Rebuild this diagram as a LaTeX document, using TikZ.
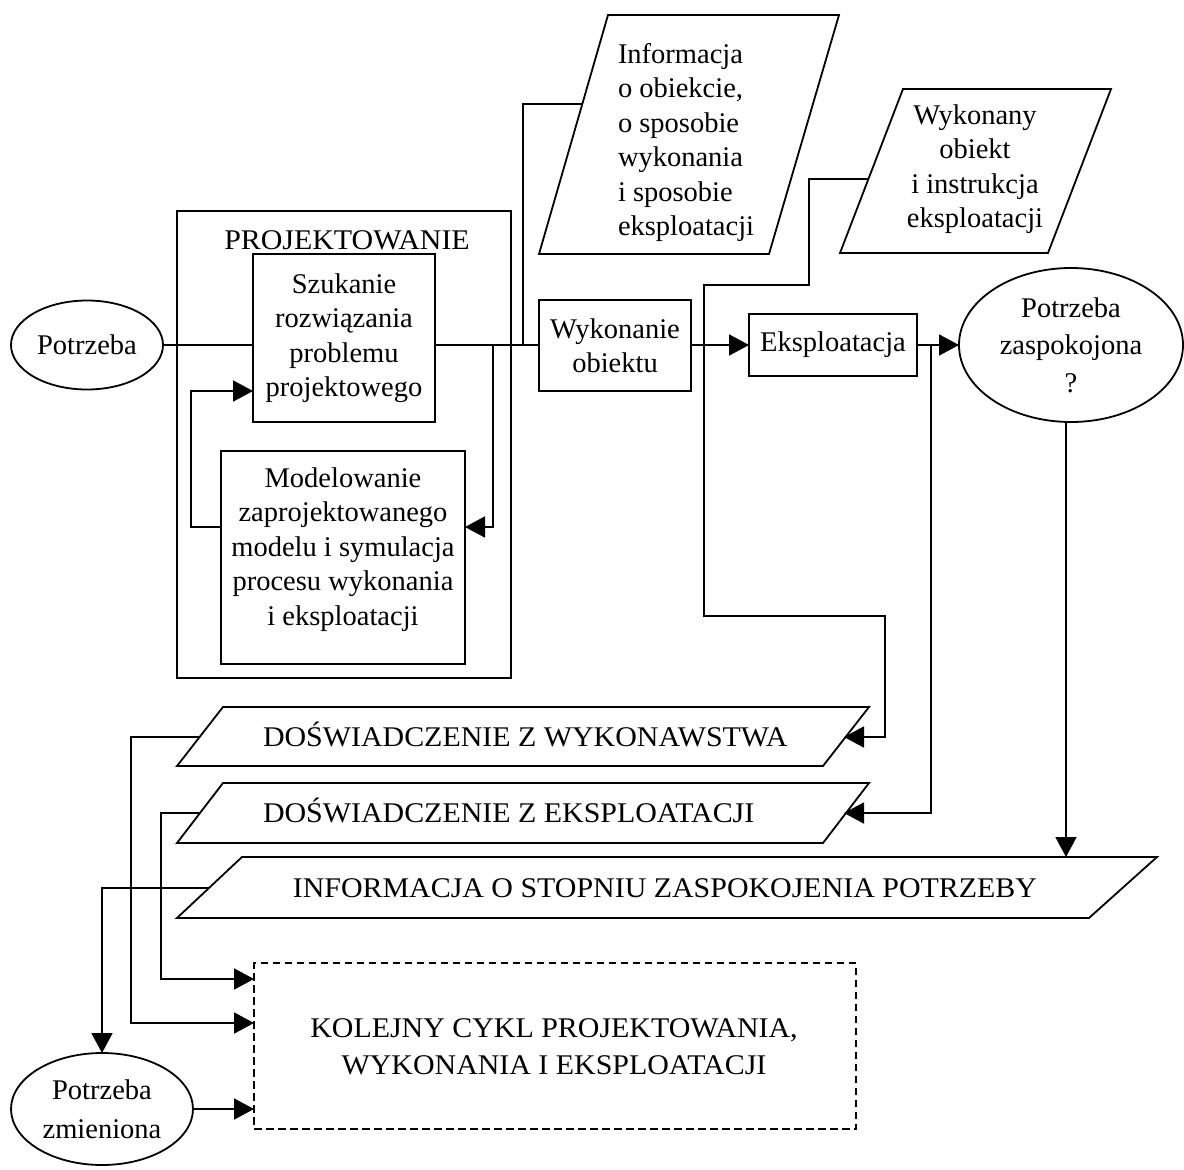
\documentclass[tikz,border=0pt]{standalone}
\usepackage{fontspec}
\setmainfont{Liberation Serif}
\newfontfamily\capsfont[FakeStretch=1.05]{Liberation Serif}
\usetikzlibrary{arrows.meta,shapes.geometric}
\begin{document}
\begin{tikzpicture}[x=1pt,y=-1pt,
  every node/.style={font=\fontsize{28.5}{34.5}\selectfont, inner sep=0pt, outer sep=0pt},
  caps/.style={font=\capsfont\fontsize{28.5}{34.5}\selectfont},
  ln/.style={line width=1.8pt},
  arr/.style={ln, -{Triangle[length=20pt,width=21pt]}},
  boxs/.style={draw, line width=1.8pt, rectangle, align=center},
  ell/.style={draw, line width=1.8pt, ellipse, align=center},
  txt/.style={align=center},
  dashbox/.style={draw, line width=1.8pt, dash pattern=on 7.5pt off 4.5pt, align=center},
]
\useasboundingbox (0,0) rectangle (1184,1170);

% --- design stage ---
\node[ell, minimum width=152, minimum height=89] (need) at (87,345) {Potrzeba};
\node[boxs, minimum width=334, minimum height=467] (proj) at (344,444.5) {};
\node[caps, anchor=base] (projT) at (347,249.5) {PROJEKTOWANIE};
\node[boxs, minimum width=182, minimum height=168] (szuk) at (344,338)
  {Szukanie\\rozwiązania\\problemu\\projektowego};
\node[boxs, minimum width=244, minimum height=213] (model) at (343,557.5) {};
\node[txt] (modelT) at (343,549.5)
  {Modelowanie\\zaprojektowanego\\modelu i symulacja\\procesu wykonania\\i eksploatacji};

% --- production and use ---
\node[boxs, minimum width=152, minimum height=91] (wyk) at (615,345.5) {Wykonanie\\obiektu};
\node[boxs, minimum width=168, minimum height=62] (eksp) at (833,345) {Eksploatacja};
\node[ell, minimum width=224, minimum height=154] (zasp) at (1071,345)
  {Potrzeba\\[3pt]zaspokojona\\[3pt]?};

% --- data (parallelograms) ---
\draw[ln] (539,254) -- (608,15) -- (839,15) -- (769,254) -- cycle;
\node[align=left, anchor=west] (infoT) at (618,142.5)
  {Informacja\\o obiekcie,\\o sposobie\\wykonania\\i sposobie\\eksploatacji};
\coordinate (infoL) at (582.3,104);

\draw[ln] (840,253) -- (903,89) -- (1111,89) -- (1048,253) -- cycle;
\node[txt] (wykoT) at (975,169) {Wykonany\\obiekt\\i instrukcja\\eksploatacji};
\coordinate (wykoL) at (868.4,179);

\draw[ln] (177,766) -- (223,707) -- (869,707) -- (823,766) -- cycle;
\node[caps, anchor=base west] (dwT) at (263,746.5) {DOŚWIADCZENIE Z WYKONAWSTWA};
\coordinate (dwL) at (200,737);
\coordinate (dwR) at (844,737);

\draw[ln] (177,843) -- (223,783) -- (869,783) -- (823,843) -- cycle;
\node[caps, anchor=base west] (deT) at (263,822.5) {DOŚWIADCZENIE Z EKSPLOATACJI};
\coordinate (deL) at (200,813);
\coordinate (deR) at (844,813);

\draw[ln] (177,918) -- (242,857) -- (1157,857) -- (1089,918) -- cycle;
\node[caps, anchor=base] (inT) at (665,897.5) {INFORMACJA O STOPNIU ZASPOKOJENIA POTRZEBY};
\coordinate (inL) at (209,888);
\coordinate (inTop) at (1066,857);

% --- next cycle ---
\node[dashbox, minimum width=602, minimum height=166] (kol) at (555,1046) {};
\node[caps, txt] (kolT) at (554,1047)
  {KOLEJNY CYKL PROJEKTOWANIA,\\[2.5pt]WYKONANIA I EKSPLOATACJI};
\node[ell, minimum width=182, minimum height=112] (zmien) at (102,1109)
  {Potrzeba\\[4.5pt]zmieniona};

% --- junctions on the main line ---
\coordinate (b1) at (493,345);
\coordinate (j1) at (523,345);
\coordinate (b2) at (931,345);

% --- connectors ---
\draw[ln] (need.east) -- (need.east -| szuk.west);
\draw[ln] (szuk.east |- need.east) -- (wyk.west |- need.east);
\draw[arr] (wyk.east |- need.east) -- (eksp.west);
\draw[arr] (eksp.east) -- (zasp.west);
\draw[arr] (b1) |- ([yshift=30.5pt]model.east);
\draw[arr] ([yshift=30.5pt]model.west) -- ++(-30,0) |- ([yshift=-53pt]szuk.west);
\draw[ln] (infoL) -| (j1);
\draw[arr] (wykoL) -| (809,285) -| (704,616) -| (885,737) -- (dwR);
\draw[arr] (b2) |- (deR);
\draw[arr] (inTop |- zasp.south) -- (inTop);
\draw[arr] (dwL) -| (131,1023) -- ([yshift=23pt]kol.west);
\draw[arr] (deL) -| (161,979) -- ([yshift=67pt]kol.west);
\draw[arr] (inL) -| (zmien.north);
\draw[arr] (zmien.east) -- (zmien.east -| kol.west);
\end{tikzpicture}
\end{document}
